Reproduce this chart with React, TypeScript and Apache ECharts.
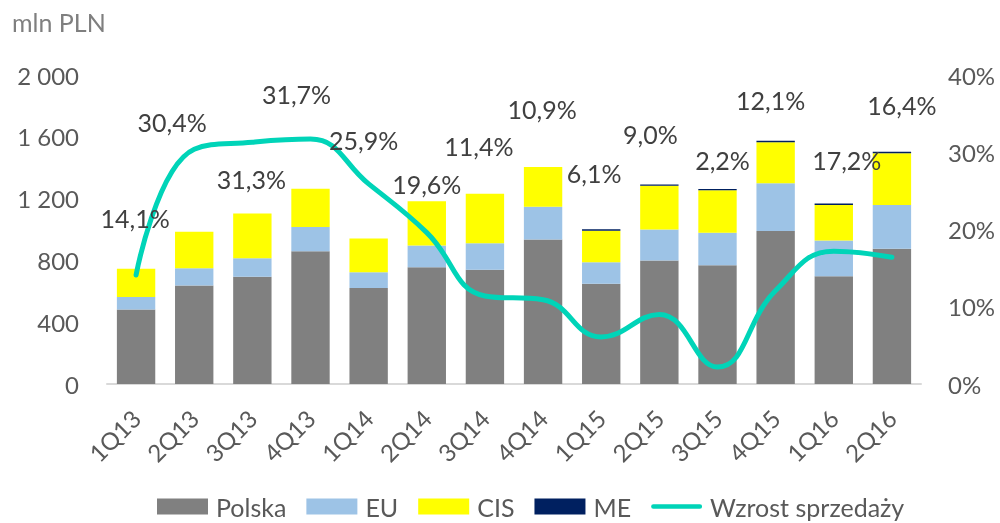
import React, { useEffect, useRef } from "react";
import * as echarts from "echarts";

const categories = ["1Q13", "2Q13", "3Q13", "4Q13", "1Q14", "2Q14", "3Q14", "4Q14", "1Q15", "2Q15", "3Q15", "4Q15", "1Q16", "2Q16"];
const polska = [482, 637, 694, 859, 621, 756, 739, 936, 649, 799, 769, 990, 698, 876];
const eu = [81, 113, 120, 157, 103, 140, 172, 211, 139, 201, 210, 309, 230, 283];
const cis = [183, 236, 289, 248, 217, 287, 321, 257, 204, 283, 275, 265, 231, 335];
const me = [0, 0, 0, 0, 0, 0, 0, 0, 9, 8, 8, 10, 10, 10];
const growth = [14.1, 30.4, 31.3, 31.7, 25.9, 19.6, 11.4, 10.9, 6.1, 9.0, 2.2, 12.1, 17.2, 16.4];
const leftTicks = { min: 0, max: 2000, interval: 400 };
const rightTicks = { min: 0, max: 40, interval: 10 };

// label placement (pixel offsets from each point), layout only
const labelOffsets: [number, number][] = [
  [-1, -57], [-22, -27], [-1, 37], [-14, -45], [-5, -44], [0, -49], [-6, -150],
  [-1, -191], [-7, -164], [-9, -180], [5, -207], [-5, -191], [13, -91], [10, -152],
];

const FONT = "Lato, 'Open Sans', sans-serif";
const AXIS_TEXT = "#595959";
const LINE_COLOR = "#00D4B8";

export default function App() {
  const ref = useRef<HTMLDivElement>(null);
  useEffect(() => {
    if (!ref.current) return;
    const chart = echarts.init(ref.current, null, { renderer: "svg" });
    const fmtThousands = (v: number) => String(v).replace(/\B(?=(\d{3})+(?!\d))/g, " ");
    const barSeries = (name: string, data: number[], color: string) => ({
      name,
      type: "bar",
      stack: "total",
      data,
      barWidth: "66%",
      itemStyle: { color },
    });
    chart.setOption({
      animation: false,
      textStyle: { fontFamily: FONT },
      title: {
        text: "mln PLN",
        left: 7,
        top: 4,
        textStyle: { fontSize: 25, fontWeight: "normal", color: "#7F7F7F", fontFamily: FONT },
      },
      grid: { left: 107, right: 79, top: 75, bottom: 139 },
      legend: {
        left: 157,
        top: 494,
        padding: 0,
        itemWidth: 51,
        itemHeight: 16,
        itemGap: 20,
        textStyle: { fontSize: 25, color: AXIS_TEXT, fontFamily: FONT, padding: [0, 0, 0, 3] },
        data: [
          { name: "Polska", icon: "rect" },
          { name: "EU", icon: "rect" },
          { name: "CIS", icon: "rect" },
          { name: "ME", icon: "rect" },
          {
            name: "Wzrost sprzedaży",
            icon: "path://M0,0 M55,16 M2,5.5 L53,5.5 A2.5,2.5 0 0 1 53,10.5 L2,10.5 A2.5,2.5 0 0 1 2,5.5 Z",
            itemStyle: { color: LINE_COLOR, borderWidth: 0 },
          },
        ],
      },
      xAxis: {
        type: "category",
        data: categories,
        axisLine: { lineStyle: { color: "#D9D9D9", width: 2 } },
        axisTick: { show: false },
        axisLabel: { rotate: 45, fontSize: 24, color: AXIS_TEXT, margin: 30, fontFamily: FONT, interval: 0 },
      },
      yAxis: [
        {
          type: "value",
          ...leftTicks,
          splitLine: { show: false },
          axisLine: { show: false },
          axisTick: { show: false },
          axisLabel: { fontSize: 24, color: AXIS_TEXT, margin: 28, fontFamily: FONT, formatter: fmtThousands },
        },
        {
          type: "value",
          ...rightTicks,
          position: "right",
          splitLine: { show: false },
          axisLine: { show: false },
          axisTick: { show: false },
          axisLabel: { fontSize: 24, color: AXIS_TEXT, margin: 27, fontFamily: FONT, formatter: "{value}%" },
        },
      ],
      series: [
        barSeries("Polska", polska, "#808080"),
        barSeries("EU", eu, "#9DC3E6"),
        barSeries("CIS", cis, "#FFFF00"),
        barSeries("ME", me, "#002060"),
        {
          name: "Wzrost sprzedaży",
          type: "line",
          yAxisIndex: 1,
          smooth: 0.45,
          symbol: "circle",
          symbolSize: 1,
          showSymbol: true,
          lineStyle: { color: LINE_COLOR, width: 5, cap: "round" },
          itemStyle: { color: LINE_COLOR },
          data: growth.map((v, i) => ({
            value: v,
            label: {
              show: true,
              position: "inside",
              offset: labelOffsets[i],
              formatter: () => v.toFixed(1).replace(".", ",") + "%",
              fontSize: 25,
              color: "#404040",
              fontFamily: FONT,
            },
          })),
        },
      ],
    });
    return () => chart.dispose();
  }, []);
  return <div ref={ref} style={{ position: "fixed", left: 0, top: 0, width: 1000, height: 523 }} />;
}
